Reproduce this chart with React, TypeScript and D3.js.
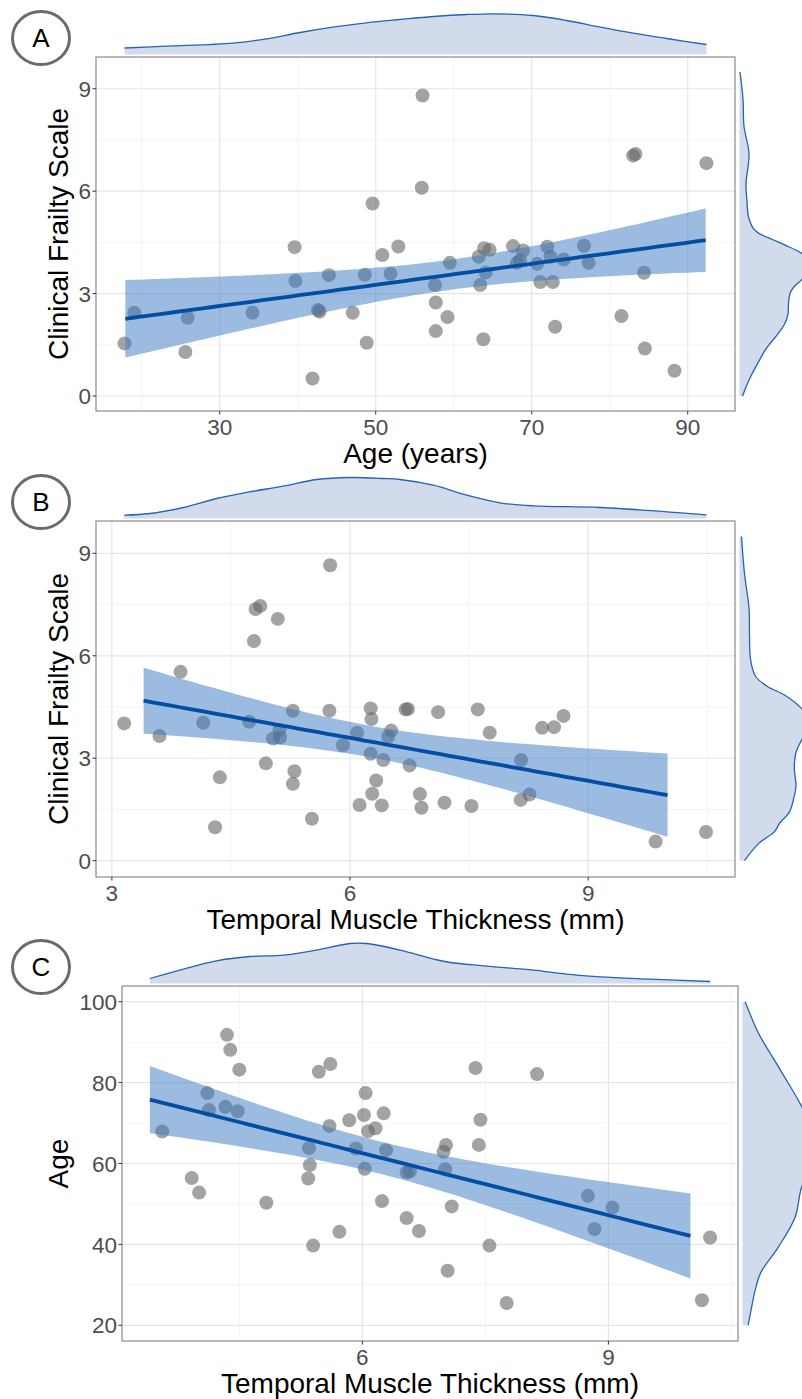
import React from "react";
import * as d3 from "d3";

const FONT = "'Liberation Sans', Arial, Helvetica, sans-serif";

// ---- Panel A: age vs clinical frailty scale ----
const ageA = [17.8, 19.05, 25.6, 25.9, 34.2, 39.6, 39.7, 41.9, 42.6, 42.8, 44.0, 47.05, 48.6, 48.85, 49.6, 50.85, 51.9, 52.9, 56.0, 55.9, 57.6, 57.7, 57.7, 59.2, 59.5, 63.2, 63.4, 63.8, 63.9, 64.1, 64.6, 67.6, 68.1, 68.5, 68.9, 70.7, 71.1, 72.0, 72.4, 72.7, 73.0, 74.1, 76.7, 77.3, 81.5, 83.0, 83.3, 84.4, 84.5, 88.3, 92.4];
const cfsA = [1.54, 2.44, 1.29, 2.29, 2.44, 4.36, 3.37, 0.51, 2.52, 2.47, 3.54, 2.44, 3.55, 1.56, 5.64, 4.13, 3.58, 4.38, 8.8, 6.1, 3.25, 2.74, 1.9, 2.31, 3.9, 4.08, 3.25, 1.66, 4.33, 3.62, 4.28, 4.39, 3.9, 3.98, 4.26, 3.87, 3.34, 4.37, 4.08, 3.34, 2.03, 4.0, 4.4, 3.9, 2.34, 7.04, 7.09, 3.61, 1.39, 0.74, 6.82];

// ---- Panel B: temporal muscle thickness vs clinical frailty scale ----
const tmtB = [3.155, 3.6, 3.865, 4.15, 4.3, 4.36, 4.73, 4.79, 4.81, 4.87, 4.94, 5.03, 5.09, 5.11, 5.12, 5.28, 5.3, 5.28, 5.52, 5.75, 5.74, 5.91, 6.09, 6.12, 6.26, 6.27, 6.26, 6.28, 6.33, 6.4, 6.42, 6.48, 6.52, 6.7, 6.73, 6.75, 7.11, 6.88, 6.9, 7.19, 7.53, 7.61, 7.76, 8.155, 8.15, 8.26, 8.42, 8.57, 8.69, 9.85, 10.485];
const cfsB = [4.02, 3.65, 5.53, 4.04, 0.98, 2.44, 4.07, 6.43, 7.37, 7.46, 2.85, 3.58, 7.08, 3.83, 3.61, 4.39, 2.62, 2.25, 1.23, 8.65, 4.39, 3.38, 3.75, 1.63, 4.46, 4.15, 3.13, 1.96, 2.35, 1.62, 2.95, 3.63, 3.81, 4.43, 4.44, 2.79, 4.35, 1.95, 1.55, 1.7, 1.6, 4.43, 3.75, 2.95, 1.78, 1.94, 3.89, 3.91, 4.24, 0.56, 0.84];

// ---- Panel C: temporal muscle thickness vs age ----
const tmtC = [3.56, 3.92, 4.01, 4.11, 4.13, 4.35, 4.39, 4.33, 4.48, 4.5, 4.83, 5.35, 5.36, 5.34, 5.4, 5.47, 5.61, 5.6, 5.72, 5.84, 5.92, 6.02, 6.04, 6.03, 6.07, 6.16, 6.24, 6.26, 6.29, 6.54, 6.58, 6.54, 6.69, 6.99, 7.02, 7.01, 7.04, 7.09, 7.38, 7.42, 7.44, 7.55, 7.76, 8.13, 8.75, 8.83, 9.05, 10.14, 10.24];
const ageC = [67.9, 56.4, 52.8, 77.4, 73.2, 91.8, 88.1, 74.0, 72.9, 83.2, 50.3, 63.8, 59.6, 56.3, 39.7, 82.7, 84.6, 69.3, 43.1, 70.7, 63.7, 72.0, 77.4, 58.7, 68.0, 68.7, 50.7, 72.4, 63.3, 57.8, 58.1, 46.5, 43.3, 62.9, 64.6, 58.6, 33.5, 49.4, 83.6, 64.6, 70.8, 39.7, 25.5, 82.1, 52.0, 43.8, 49.1, 26.2, 41.7];

// axis limits and ticks
const xDomainA = [14.14, 96.06];
const yDomainA = [-0.44, 9.93];
const xTicksA = [30, 50, 70, 90];
const yTicksA = [0, 3, 6, 9];
const xDomainB = [2.8, 10.85];
const yDomainB = [-0.477, 9.946];
const xTicksB = [3, 6, 9];
const yTicksB = [0, 3, 6, 9];
const xDomainC = [3.07, 10.58];
const yDomainC = [16.12, 103.88];
const xTicksC = [6, 9];
const yTicksC = [20, 40, 60, 80, 100];

// x span of the fitted lm line
const fitRangeA = [17.9, 92.3];
const fitRangeB = [3.4, 10.0];
const fitRangeC = [3.41, 10.0];

// marginal densities [value, relative density]
const topDensA: [number, number][] = [[17.8, 0.065], [23.2, 0.083], [31.7, 0.113], [36.0, 0.157], [40.3, 0.22], [44.5, 0.273], [48.8, 0.317], [53.1, 0.35], [57.4, 0.38], [61.7, 0.4], [65.5, 0.407], [70.2, 0.39], [74.5, 0.34], [78.8, 0.273], [83.0, 0.213], [87.3, 0.16], [92.4, 0.1]];
const rightDensA: [number, number][] = [[9.49, 0.005], [8.7, 0.035], [7.9, 0.045], [7.1, 0.095], [6.2, 0.065], [5.7, 0.075], [5.25, 0.09], [4.9, 0.14], [4.77, 0.19], [4.57, 0.34], [4.42, 0.455], [4.18, 0.62], [3.95, 0.7], [3.65, 0.68], [3.4, 0.62], [3.2, 0.545], [3.0, 0.505], [2.7, 0.49], [2.4, 0.485], [2.1, 0.45], [1.84, 0.39], [1.4, 0.27], [1.0, 0.19], [0.5, 0.1], [0.0, 0.03]];
const topDensB: [number, number][] = [[3.155, 0.033], [3.48, 0.05], [3.9, 0.11], [4.32, 0.2], [4.74, 0.267], [5.16, 0.323], [5.58, 0.39], [6.0, 0.41], [6.42, 0.4], [6.63, 0.39], [7.05, 0.333], [7.47, 0.233], [7.89, 0.157], [8.31, 0.127], [9.15, 0.11], [9.99, 0.067], [10.49, 0.037]];
const rightDensB: [number, number][] = [[9.49, 0.02], [8.4, 0.05], [7.4, 0.095], [6.6, 0.1], [5.9, 0.11], [5.4, 0.16], [5.1, 0.28], [4.85, 0.45], [4.46, 0.62], [4.15, 0.7], [3.85, 0.68], [3.53, 0.62], [3.19, 0.567], [2.9, 0.55], [2.61, 0.55], [2.2, 0.565], [1.8, 0.54], [1.43, 0.5], [1.09, 0.4], [0.85, 0.35], [0.5, 0.19], [0.0, 0.05]];
const topDensC: [number, number][] = [[3.41, 0.05], [3.82, 0.144], [4.22, 0.227], [4.63, 0.27], [5.04, 0.284], [5.44, 0.334], [5.85, 0.4], [6.05, 0.4], [6.46, 0.334], [6.87, 0.244], [7.07, 0.21], [7.48, 0.177], [8.09, 0.134], [8.49, 0.094], [8.9, 0.067], [9.51, 0.044], [10.24, 0.02]];
const rightDensC: [number, number][] = [[100, 0.027], [92.2, 0.16], [83.9, 0.36], [74, 0.594], [68, 0.7], [63, 0.74], [58, 0.69], [54.3, 0.594], [46.8, 0.527], [39.4, 0.36], [32.9, 0.18], [28.7, 0.127], [20.5, 0.06], [20, 0.055]];

const T975 = 2.01;

function ols(xs: number[], ys: number[]) {
  const n = xs.length;
  const mx = d3.mean(xs) as number;
  const my = d3.mean(ys) as number;
  let sxx = 0;
  let sxy = 0;
  xs.forEach((x, i) => {
    sxx += (x - mx) ** 2;
    sxy += (x - mx) * (ys[i] - my);
  });
  const b = sxy / sxx;
  const a = my - b * mx;
  const sse = d3.sum(xs, (x, i) => (ys[i] - a - b * x) ** 2);
  const s = Math.sqrt(sse / (n - 2));
  return { a, b, mx, sxx, s, n };
}

function minorTicks(ticks: number[], domain: number[]) {
  const step = ticks[1] - ticks[0];
  const out: number[] = [];
  ticks.forEach((t) => {
    [t - step / 2, t + step / 2].forEach((m) => {
      if (m > domain[0] && m < domain[1] && !out.includes(m)) out.push(m);
    });
  });
  return out;
}

const dens = d3.scaleLinear().domain([0, 1]).range([0, 100]);

const Panel = ({ letter, box, xDomain, yDomain, xTicks, yTicks, xs, ys, fitRange, topDens, rightDens, xTitle, yTitle }) => {
  const x = d3.scaleLinear().domain(xDomain).range([box.left, box.right]);
  const y = d3.scaleLinear().domain(yDomain).range([box.bottom, box.top]);
  const xMinor = minorTicks(xTicks, xDomain);
  const yMinor = minorTicks(yTicks, yDomain);

  const fit = ols(xs, ys);
  const samples = d3.range(0, 61).map((i) => fitRange[0] + ((fitRange[1] - fitRange[0]) * i) / 60);
  const band = samples.map((v) => {
    const yhat = fit.a + fit.b * v;
    const se = fit.s * Math.sqrt(1 / fit.n + (v - fit.mx) ** 2 / fit.sxx);
    return { v, yhat, lo: yhat - T975 * se, hi: yhat + T975 * se };
  });
  const bandPath = d3
    .area<any>()
    .x((d) => x(d.v))
    .y0((d) => y(d.lo))
    .y1((d) => y(d.hi))(band);
  const linePath = d3
    .line<any>()
    .x((d) => x(d.v))
    .y((d) => y(d.yhat))(band);

  const baseTop = box.top - 2.5;
  const baseRight = box.right + 4.5;
  const topArea = d3
    .area<[number, number]>()
    .x((d) => x(d[0]))
    .y0(baseTop)
    .y1((d) => baseTop - dens(d[1]))
    .curve(d3.curveCatmullRom)(topDens);
  const topLine = d3
    .line<[number, number]>()
    .x((d) => x(d[0]))
    .y((d) => baseTop - dens(d[1]))
    .curve(d3.curveCatmullRom)(topDens);
  const rightArea = d3
    .area<[number, number]>()
    .y((d) => y(d[0]))
    .x0(baseRight)
    .x1((d) => baseRight + dens(d[1]))
    .curve(d3.curveCatmullRom)(rightDens);
  const rightLine = d3
    .line<[number, number]>()
    .y((d) => y(d[0]))
    .x((d) => baseRight + dens(d[1]))
    .curve(d3.curveCatmullRom)(rightDens);

  const cy = box.top - 19;
  const midY = (box.top + box.bottom) / 2;
  const midX = (box.left + box.right) / 2;

  return (
    <g>
      <ellipse cx={41} cy={cy} rx={28.5} ry={26.5} fill="none" stroke="#6b6b6b" strokeWidth={3} />
      <text x={41} y={cy} dy="0.36em" textAnchor="middle" fontSize={26} fontFamily={FONT} fill="#000">
        {letter}
      </text>

      <path d={topArea} fill="#d1dbeb" />
      <path d={topLine} fill="none" stroke="#2563b3" strokeWidth={1.3} />
      <path d={rightArea} fill="#d1dbeb" />
      <path d={rightLine} fill="none" stroke="#2563b3" strokeWidth={1.3} />

      <rect x={box.left} y={box.top} width={box.right - box.left} height={box.bottom - box.top} fill="#fff" />
      {xMinor.map((t) => (
        <line key={"xm" + t} x1={x(t)} x2={x(t)} y1={box.top} y2={box.bottom} stroke="#f2f2f2" strokeWidth={0.8} />
      ))}
      {yMinor.map((t) => (
        <line key={"ym" + t} y1={y(t)} y2={y(t)} x1={box.left} x2={box.right} stroke="#f2f2f2" strokeWidth={0.8} />
      ))}
      {xTicks.map((t) => (
        <line key={"xg" + t} x1={x(t)} x2={x(t)} y1={box.top} y2={box.bottom} stroke="#e6e6e6" strokeWidth={1.2} />
      ))}
      {yTicks.map((t) => (
        <line key={"yg" + t} y1={y(t)} y2={y(t)} x1={box.left} x2={box.right} stroke="#e6e6e6" strokeWidth={1.2} />
      ))}

      {xs.map((v, i) => (
        <circle key={i} cx={x(v)} cy={y(ys[i])} r={7} fill="#666666" fillOpacity={0.6} />
      ))}
      <path d={bandPath} fill="#3a78c2" fillOpacity={0.5} />
      <path d={linePath} fill="none" stroke="#034ea2" strokeWidth={3.8} />

      <rect x={box.left} y={box.top} width={box.right - box.left} height={box.bottom - box.top} fill="none" stroke="#8a8a8a" strokeWidth={1.2} />

      {xTicks.map((t) => (
        <g key={"xt" + t}>
          <line x1={x(t)} x2={x(t)} y1={box.bottom} y2={box.bottom + 3.5} stroke="#333" strokeWidth={1} />
          <text x={x(t)} y={box.bottom + 23.5} textAnchor="middle" fontSize={22.5} fontFamily={FONT} fill="#4d4d4d">
            {t}
          </text>
        </g>
      ))}
      {yTicks.map((t) => (
        <g key={"yt" + t}>
          <line x1={box.left - 3.5} x2={box.left} y1={y(t)} y2={y(t)} stroke="#333" strokeWidth={1} />
          <text x={box.left - 5} y={y(t)} dy="0.36em" textAnchor="end" fontSize={22.5} fontFamily={FONT} fill="#4d4d4d">
            {t}
          </text>
        </g>
      ))}
      <text x={midX} y={box.bottom + 52} textAnchor="middle" fontSize={28} fontFamily={FONT} fill="#000">
        {xTitle}
      </text>
      <text transform={`translate(68, ${midY}) rotate(-90)`} textAnchor="middle" fontSize={28} fontFamily={FONT} fill="#000">
        {yTitle}
      </text>
    </g>
  );
};

export default function App() {
  return (
    <svg
      width={802}
      height={1399}
      viewBox="0 0 802 1399"
      style={{ position: "absolute", left: 0, top: 0, background: "#fff" }}
    >
      <rect width={802} height={1399} fill="#fff" />
      <Panel
        letter="A"
        box={{ left: 96, top: 57, right: 735, bottom: 411 }}
        xDomain={xDomainA}
        yDomain={yDomainA}
        xTicks={xTicksA}
        yTicks={yTicksA}
        xs={ageA}
        ys={cfsA}
        fitRange={fitRangeA}
        topDens={topDensA}
        rightDens={rightDensA}
        xTitle="Age (years)"
        yTitle="Clinical Frailty Scale"
      />
      <Panel
        letter="B"
        box={{ left: 96, top: 521, right: 735, bottom: 877 }}
        xDomain={xDomainB}
        yDomain={yDomainB}
        xTicks={xTicksB}
        yTicks={yTicksB}
        xs={tmtB}
        ys={cfsB}
        fitRange={fitRangeB}
        topDens={topDensB}
        rightDens={rightDensB}
        xTitle="Temporal Muscle Thickness (mm)"
        yTitle="Clinical Frailty Scale"
      />
      <Panel
        letter="C"
        box={{ left: 122, top: 986, right: 738, bottom: 1341 }}
        xDomain={xDomainC}
        yDomain={yDomainC}
        xTicks={xTicksC}
        yTicks={yTicksC}
        xs={tmtC}
        ys={ageC}
        fitRange={fitRangeC}
        topDens={topDensC}
        rightDens={rightDensC}
        xTitle="Temporal Muscle Thickness (mm)"
        yTitle="Age"
      />
    </svg>
  );
}
